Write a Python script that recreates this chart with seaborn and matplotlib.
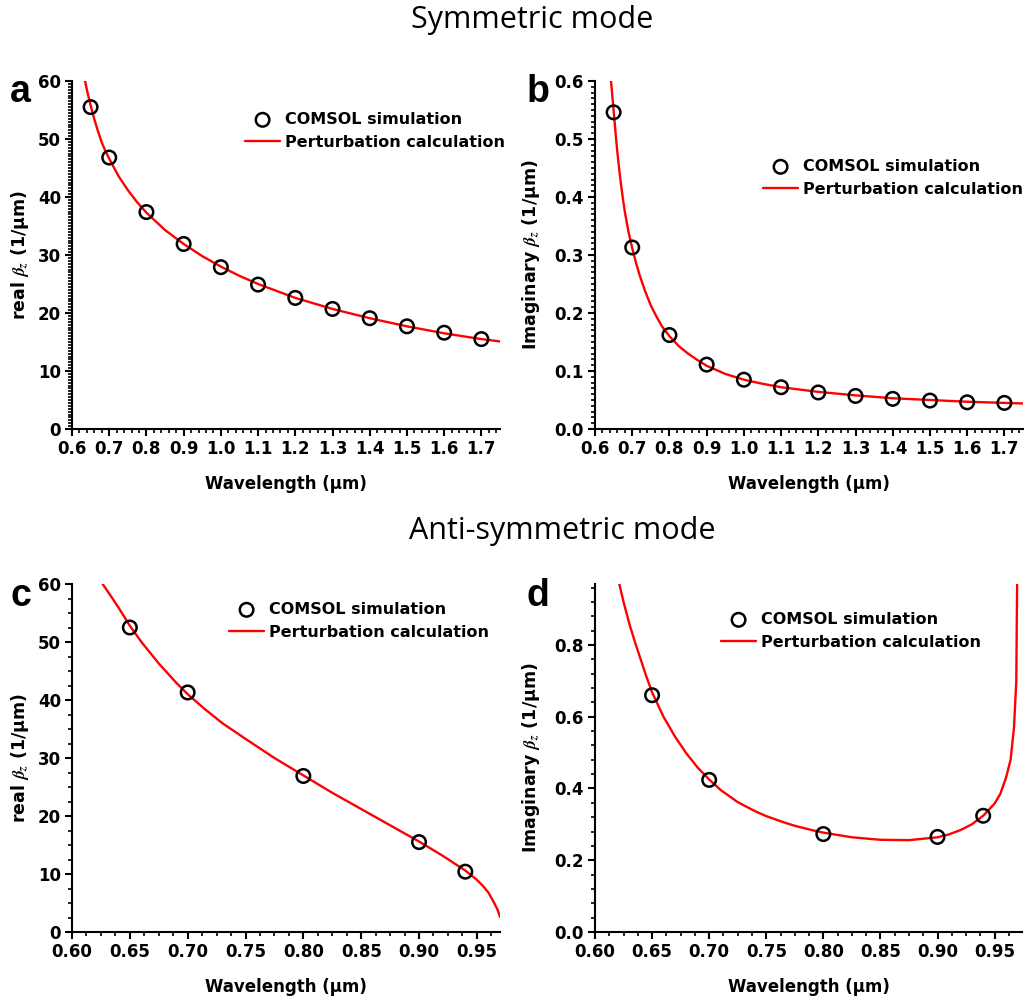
import numpy as np
import pandas as pd
import matplotlib
matplotlib.use("Agg")
import matplotlib.pyplot as plt
import seaborn as sns
from matplotlib.ticker import MultipleLocator, FormatStrFormatter

# ---------------- data ----------------
# (a) symmetric mode, real part
a_sim_x = [0.65, 0.7, 0.8, 0.9, 1.0, 1.1, 1.2, 1.3, 1.4, 1.5, 1.6, 1.7]
a_sim_y = [55.5, 46.8, 37.4, 31.9, 27.9, 24.9, 22.6, 20.7, 19.1, 17.7, 16.6, 15.5]
a_calc_x = [0.635, 0.64, 0.645, 0.65, 0.66, 0.67, 0.68, 0.69, 0.7, 0.725, 0.75, 0.775, 0.8,
            0.85, 0.9, 0.95, 1.0, 1.05, 1.1, 1.15, 1.2, 1.3, 1.4, 1.5, 1.6, 1.7, 1.75]
a_calc_y = [60.0, 58.5, 57.1, 55.8, 53.4, 51.3, 49.4, 47.9, 46.6, 43.6, 41.2, 39.1, 37.3,
            34.3, 31.9, 29.8, 28.0, 26.4, 25.0, 23.8, 22.6, 20.7, 19.1, 17.7, 16.5, 15.5, 15.1]

# (b) symmetric mode, imaginary part
b_sim_x = [0.65, 0.7, 0.8, 0.9, 1.0, 1.1, 1.2, 1.3, 1.4, 1.5, 1.6, 1.7]
b_sim_y = [0.546, 0.313, 0.162, 0.111, 0.085, 0.072, 0.063, 0.057, 0.052, 0.049, 0.046, 0.045]
b_calc_x = [0.643, 0.65, 0.655, 0.66, 0.665, 0.67, 0.675, 0.68, 0.69, 0.7, 0.71, 0.72, 0.735,
            0.75, 0.765, 0.78, 0.8, 0.825, 0.85, 0.875, 0.9, 0.95, 1.0, 1.05, 1.1, 1.15,
            1.2, 1.3, 1.4, 1.5, 1.6, 1.7, 1.75]
b_calc_y = [0.600, 0.550, 0.512, 0.478, 0.448, 0.421, 0.397, 0.375, 0.340, 0.312, 0.287,
            0.265, 0.237, 0.213, 0.194, 0.177, 0.160, 0.143, 0.130, 0.119, 0.109, 0.095,
            0.085, 0.078, 0.072, 0.068, 0.064, 0.058, 0.053, 0.050, 0.047, 0.045, 0.044]

# (c) anti-symmetric mode, real part
c_sim_x = [0.65, 0.7, 0.8, 0.9, 0.94]
c_sim_y = [52.5, 41.3, 26.9, 15.5, 10.4]
c_calc_x = [0.6265, 0.635, 0.64, 0.65, 0.66, 0.675, 0.69, 0.7, 0.715, 0.73, 0.75, 0.775, 0.8,
            0.825, 0.85, 0.875, 0.9, 0.92, 0.94, 0.95, 0.955, 0.96, 0.965, 0.968, 0.970]
c_calc_y = [60.0, 57.5, 56.0, 52.8, 50.0, 46.3, 43.0, 41.0, 38.4, 36.0, 33.3, 30.0, 27.0,
            24.0, 21.2, 18.4, 15.6, 13.2, 10.6, 9.0, 8.0, 6.8, 5.0, 3.8, 2.6]

# (d) anti-symmetric mode, imaginary part
d_sim_x = [0.65, 0.7, 0.8, 0.9, 0.94]
d_sim_y = [0.660, 0.424, 0.273, 0.265, 0.324]
d_calc_x = [0.6213, 0.625, 0.63, 0.635, 0.64, 0.645, 0.65, 0.66, 0.67, 0.68, 0.69, 0.7,
            0.71, 0.725, 0.74, 0.75, 0.765, 0.775, 0.79, 0.8, 0.825, 0.85, 0.875, 0.9,
            0.91, 0.92, 0.93, 0.94, 0.95, 0.955, 0.96, 0.964, 0.967, 0.969, 0.9698]
d_calc_y = [0.97, 0.92, 0.86, 0.808, 0.76, 0.712, 0.668, 0.600, 0.545, 0.498, 0.458, 0.425,
            0.396, 0.362, 0.337, 0.323, 0.306, 0.296, 0.284, 0.277, 0.264, 0.257, 0.256,
            0.264, 0.272, 0.284, 0.300, 0.324, 0.358, 0.385, 0.430, 0.480, 0.570, 0.700, 1.0]

sim_label = "COMSOL simulation"
calc_label = "Perturbation calculation"
xlabel = "Wavelength (μm)"
ylabels = [r"real $\beta_z$ (1/μm)", r"Imaginary $\beta_z$ (1/μm)",
           r"real $\beta_z$ (1/μm)", r"Imaginary $\beta_z$ (1/μm)"]
letters = ["a", "b", "c", "d"]
titles = ["Symmetric mode", "Anti-symmetric mode"]

# ---------------- style ----------------
sns.set_style("ticks")
plt.rcParams["font.family"] = ["DejaVu Sans"]
plt.rcParams["font.weight"] = "bold"
plt.rcParams["axes.labelweight"] = "bold"
plt.rcParams["mathtext.fontset"] = "stix"
plt.rcParams["axes.linewidth"] = 1.5
plt.rcParams["xtick.direction"] = "out"
plt.rcParams["ytick.direction"] = "out"
for key in ["text.color", "axes.labelcolor", "xtick.color", "ytick.color",
            "axes.edgecolor", "xtick.labelcolor", "ytick.labelcolor"]:
    plt.rcParams[key] = "black"

W, H = 1030, 1001
fig = plt.figure(figsize=(W / 100, H / 100), dpi=100)

def fr(left, top, right, bottom):
    return [left / W, 1 - bottom / H, (right - left) / W, (bottom - top) / H]

axes_px = [(72, 81, 500, 429), (595, 81, 1023, 429),
           (72, 584, 500, 932), (595, 584, 1022, 932)]
panels = [
    (a_sim_x, a_sim_y, a_calc_x, a_calc_y, (0.6, 1.75), (0, 60), 0.1, 0.02, 10, 0.5, "%.1f", "%d"),
    (b_sim_x, b_sim_y, b_calc_x, b_calc_y, (0.6, 1.75), (0, 0.6), 0.1, 0.02, 0.1, 0.01, "%.1f", "%.1f"),
    (c_sim_x, c_sim_y, c_calc_x, c_calc_y, (0.6, 0.970), (0, 60), 0.05, 0.0125, 10, 2.5, "%.2f", "%d"),
    (d_sim_x, d_sim_y, d_calc_x, d_calc_y, (0.6, 0.974), (0, 0.97), 0.05, 0.0125, 0.2, 0.04, "%.2f", "%.1f"),
]
legend_pos = [(245, 112), (763, 159), (229, 602), (721, 612)]
ylabel_x = [20, 531, 20, 531]
letter_pos = [(10, 92), (527, 92), (10, 596), (527, 596)]

for i, (sx, sy, cx, cy, xl, yl, xmaj, xmin, ymaj, ymin, xf, yf) in enumerate(panels):
    ax = fig.add_axes(fr(*axes_px[i]))
    sim_df = pd.DataFrame({"x": sx, "y": sy})
    calc_df = pd.DataFrame({"x": cx, "y": cy})
    sns.lineplot(data=calc_df, x="x", y="y", ax=ax, color="#ff0000", lw=1.7,
                 label=calc_label, zorder=2)
    sns.scatterplot(data=sim_df, x="x", y="y", ax=ax, marker="o", s=95,
                    facecolor="none", edgecolor="black", linewidth=1.8,
                    label=sim_label, zorder=3)
    ax.set_xlim(*xl)
    ax.set_ylim(*yl)
    ax.xaxis.set_major_locator(MultipleLocator(xmaj))
    ax.xaxis.set_minor_locator(MultipleLocator(xmin))
    ax.yaxis.set_major_locator(MultipleLocator(ymaj))
    ax.yaxis.set_minor_locator(MultipleLocator(ymin))
    ax.xaxis.set_major_formatter(FormatStrFormatter(xf))
    ax.yaxis.set_major_formatter(FormatStrFormatter(yf))
    ax.tick_params(which="major", length=5, width=1.5, labelsize=12, pad=3,
                   colors="black")
    ax.tick_params(which="minor", length=3, width=1.2, colors="black")
    for lab in ax.get_xticklabels() + ax.get_yticklabels():
        lab.set_fontweight("bold")
    sns.despine(ax=ax)
    for sp in ["left", "bottom"]:
        ax.spines[sp].set_color("black")
    ax.set_xlabel(xlabel, fontsize=12, fontweight="bold", labelpad=12, color="black")
    ax.set_ylabel("")
    l, t, r, b = axes_px[i]
    fig.text(ylabel_x[i] / W, 1 - ((t + b) / 2) / H, ylabels[i], rotation=90,
             ha="center", va="center", fontsize=12.5, fontweight="bold", color="black")
    fig.text(letter_pos[i][0] / W, 1 - letter_pos[i][1] / H, letters[i],
             ha="left", va="center", fontsize=27, fontweight="bold", color="black",
             family=["Liberation Sans", "DejaVu Sans"])
    handles, labels = ax.get_legend_handles_labels()
    order = [labels.index(sim_label), labels.index(calc_label)]
    lx, ly = legend_pos[i]
    leg = ax.legend([handles[k] for k in order], [labels[k] for k in order],
                    loc="upper left", bbox_to_anchor=(lx / W, 1 - ly / H),
                    bbox_transform=fig.transFigure, frameon=False, borderpad=0,
                    borderaxespad=0, handlelength=2.2, handletextpad=0.3,
                    labelspacing=0.5, prop={"size": 11.5, "weight": "bold"})
    for txt in leg.get_texts():
        txt.set_color("black")

fig.text(532 / W, 1 - 20 / H, titles[0], ha="center", va="center", color="black",
         fontsize=22, fontweight="normal", family=["Open Sans", "DejaVu Sans"])
fig.text(562 / W, 1 - 531 / H, titles[1], ha="center", va="center", color="black",
         fontsize=22, fontweight="normal", family=["Open Sans", "DejaVu Sans"])

fig.savefig("out.png", dpi=100)
